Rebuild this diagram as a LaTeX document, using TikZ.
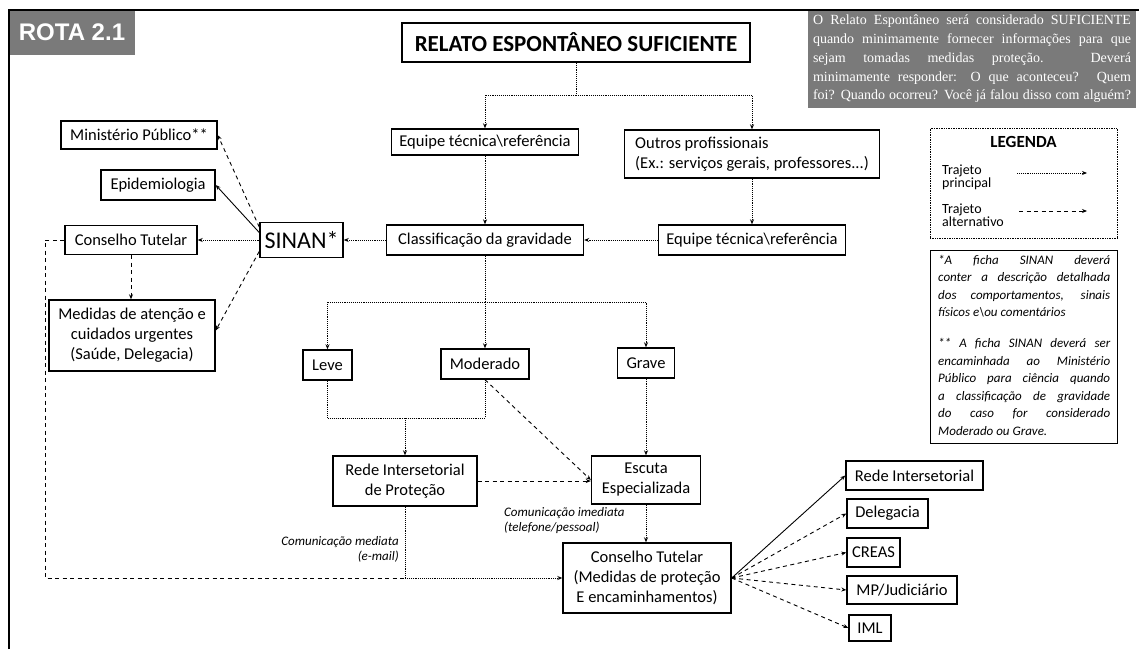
\documentclass[tikz,border=0pt]{standalone}
\usepackage{fontspec}
\setmainfont{Carlito}
\newfontfamily\infofont{Liberation Serif}
\newfontfamily\rotafont{Liberation Sans}
\usetikzlibrary{arrows.meta}
\definecolor{screen}{RGB}{122,122,122}
% a line of text stretched to a fixed width (justified line)
\newcommand{\jline}[2]{\makebox[#1][s]{#2}}

\begin{document}
\begin{tikzpicture}[x=1pt,y=-1pt,
  box/.style={draw, line width=1.4pt, inner sep=2pt, align=center,
              font=\fontsize{16.5}{20}\selectfont},
  main/.style={densely dotted, line width=0.9pt},
  alt/.style={dash pattern=on 4pt off 3.5pt, line width=0.9pt},
  plain/.style={line width=0.9pt},
  tip/.style={-{Stealth[length=5pt,width=4pt]}},
  lbl/.style={font=\itshape\fontsize{13}{15}\selectfont, inner sep=0},
  legtext/.style={anchor=west, align=left, inner sep=0, font=\fontsize{14}{13}\selectfont},
]
\useasboundingbox (0,0) rectangle (1139,649);

% header boxes
\node[fill=screen, minimum width=126pt, minimum height=45pt, inner sep=0,
      text=white, font=\rotafont\bfseries\fontsize{24}{24}\selectfont] (rota) at (72,32.5) {ROTA 2.1};
\node[fill=screen, minimum width=328pt, minimum height=98pt, inner xsep=5pt, inner ysep=3pt,
      text=white, align=left, font=\infofont\fontsize{14}{18.7}\selectfont] (info) at (972,59)
  {\jline{318pt}{O Relato Espontâneo será considerado SUFICIENTE}\\
   \jline{318pt}{quando minimamente fornecer informações para que}\\
   \jline{318pt}{sejam tomadas medidas proteção. Deverá}\\
   \jline{318pt}{minimamente responder: O que aconteceu? Quem}\\
   \jline{318pt}{foi? Quando ocorreu? Você já falou disso com alguém?}};
\draw[line width=2.4pt] (9,649) -- (9,10) -- (1139,10);

\node[box, line width=1.6pt, minimum width=348pt, minimum height=39pt,
      font=\bfseries\fontsize{23}{23}\selectfont] (title) at (576,42.5) {RELATO ESPONTÂNEO SUFICIENTE};

% main flow
\node[box, minimum width=187pt, minimum height=26pt] (eq1) at (485,142) {Equipe técnica\textbackslash referência};
\node[box, minimum width=255pt, minimum height=48pt, align=left] (outros) at (752,154)
  {Outros profissionais\\(Ex.: serviços gerais, professores...)};
\node[box, minimum width=197pt, minimum height=30pt] (classif) at (485,240) {Classificação da gravidade};
\node[box, minimum width=187pt, minimum height=30pt] (eq2) at (752,240) {Equipe técnica\textbackslash referência};
\node[box, minimum width=83pt, minimum height=35pt, font=\fontsize{24}{24}\selectfont] (sinan) at (301.5,240) {SINAN*};

% left column
\node[box, minimum width=132pt, minimum height=29pt] (ctl) at (131,240) {Conselho Tutelar};
\node[box, minimum width=156pt, minimum height=28pt] (mp) at (139,135) {Ministério Público**};
\node[box, minimum width=114pt, minimum height=30pt] (epi) at (158,185) {Epidemiologia};
\node[box, minimum width=166pt, minimum height=71pt] (med) at (132,335.5)
  {Medidas de atenção e\\cuidados urgentes\\(Saúde, Delegacia)};

% severity
\node[box, minimum width=49pt, minimum height=30pt] (leve) at (327.5,365) {Leve};
\node[box, minimum width=88pt, minimum height=30pt] (moder) at (485,364) {Moderado};
\node[box, minimum width=57pt, minimum height=30pt] (grave) at (646,363) {Grave};
\node[box, minimum width=144pt, minimum height=50pt] (rede) at (405,481) {Rede Intersetorial\\de Proteção};
\node[box, minimum width=109pt, minimum height=48pt] (escuta) at (646,480) {Escuta\\Especializada};
\node[box, minimum width=168pt, minimum height=70pt] (ctb) at (647,578)
  {Conselho Tutelar\\(Medidas de proteção\\E encaminhamentos)};

% referrals
\node[box, minimum width=137pt, minimum height=29pt] (ri) at (914.5,475.5) {Rede Intersetorial};
\node[box, minimum width=81pt, minimum height=29pt] (del) at (887.5,513.5) {Delegacia};
\node[box, minimum width=53pt, minimum height=29pt] (creas) at (873.5,552.5) {CREAS};
\node[box, minimum width=110pt, minimum height=28pt] (mpj) at (902,590) {MP/Judiciário};
\node[box, minimum width=42pt, minimum height=26pt] (iml) at (870,628) {IML};

% legend
\node[draw, densely dotted, line width=0.7pt, minimum width=187pt, minimum height=110pt] (legend) at (1023.5,183) {};
\node[font=\bfseries\fontsize{17}{17}\selectfont] (legtitle) at (1023.5,142) {LEGENDA};
\node[legtext] (legmain) at (942,177) {Trajeto\\principal};
\node[legtext] (legalt) at (942,215) {Trajeto\\alternativo};
\coordinate (lm1) at (1017,173);
\coordinate (lm2) at (1087,173);
\coordinate (la1) at (1019,211);
\coordinate (la2) at (1087,211);
\draw[main,tip] (lm1) -- (lm2);
\draw[alt,tip] (la1) -- (la2);

% footnotes
\node[draw, line width=1pt, minimum width=187pt, minimum height=193pt] (note) at (1023.5,346.5) {};
\node[anchor=north west, inner sep=0, align=left, font=\itshape\fontsize{13}{17.5}\selectfont] (notetext) at (938,255)
  {\jline{172pt}{*A ficha SINAN deverá}\\
   \jline{172pt}{conter a descrição detalhada}\\
   \jline{172pt}{dos comportamentos, sinais}\\
   físicos e\textbackslash ou comentários\\[13.5pt]
   \jline{172pt}{** A ficha SINAN deverá ser}\\
   \jline{172pt}{encaminhada ao Ministério}\\
   \jline{172pt}{Público para ciência quando}\\
   \jline{172pt}{a classificação de gravidade}\\
   \jline{172pt}{do caso for considerado}\\
   Moderado ou Grave.};

% edge labels
\node[lbl, align=right, anchor=east] (lblmed) at (399,549) {Comunicação mediata\\(e-mail)};
\node[lbl, align=left, anchor=west] (lblimed) at (504,521) {Comunicação imediata\\(telefone/pessoal)};

% connectors: top part
\coordinate (split1) at (576,95);
\draw[main] (title.south) -- (split1);
\draw[main,tip] (split1) -| (eq1.north);
\draw[main,tip] (split1) -| (outros.north);
\draw[main,tip] (eq1.south) -- (classif.north);
\draw[main,tip] (outros.south) -- (eq2.north);
\draw[main,tip] (eq2.west) -- (classif.east);
\draw[main,tip] (classif.west) -- (sinan.east);

% connectors: SINAN
\draw[main,tip] (sinan.west) -- (ctl.east);
\draw[alt,tip] (sinan.163) -- (mp.east);
\draw[plain,tip] (sinan.170) -- (epi.east);
\draw[alt,tip] (sinan.195) -- ([yshift=5pt]med.east);
\draw[alt,tip] (ctl.south) -- (ctl.south |- med.north);
\coordinate (ctbend1) at (45,240);
\coordinate (ctbend2) at (45,578);
\coordinate (merge) at (405,578);
\draw[alt] (ctl.west) -- (ctbend1) -- (ctbend2) -- (merge);

% connectors: severity
\coordinate (split2) at (485,302);
\draw[main] (classif.south) -- (split2);
\draw[main,tip] (split2) -| (leve.north);
\draw[main,tip] (split2) -| (grave.north);
\draw[main,tip] (split2) -- (moder.north);
\coordinate (join1) at (327.5,418);
\coordinate (join2) at (485,418);
\coordinate (join3) at (405,418);
\draw[main] (leve.south) -- (join1) -- (join2) -- (moder.south);
\draw[main,tip] (join3) -- (rede.north);
\draw[main,tip] (grave.south) -- (escuta.north);
\draw[alt,tip] (moder.south) -- (escuta.west);
\draw[alt,tip] (rede.east) -- (rede.east -| escuta.west);
\draw[main,tip] (escuta.south) -- (escuta.south |- ctb.north);
\draw[main] (rede.south) -- (merge);
\draw[main,tip] (merge) -- (ctb.west);

% connectors: referrals
\draw[plain,tip] (ctb.east) -- (ri.west);
\draw[alt,tip] (ctb.east) -- (del.west);
\draw[alt,tip] (ctb.east) -- (creas.west);
\draw[alt,tip] (ctb.east) -- (mpj.west);
\draw[alt,tip] (ctb.east) -- (iml.west);
\end{tikzpicture}
\end{document}
